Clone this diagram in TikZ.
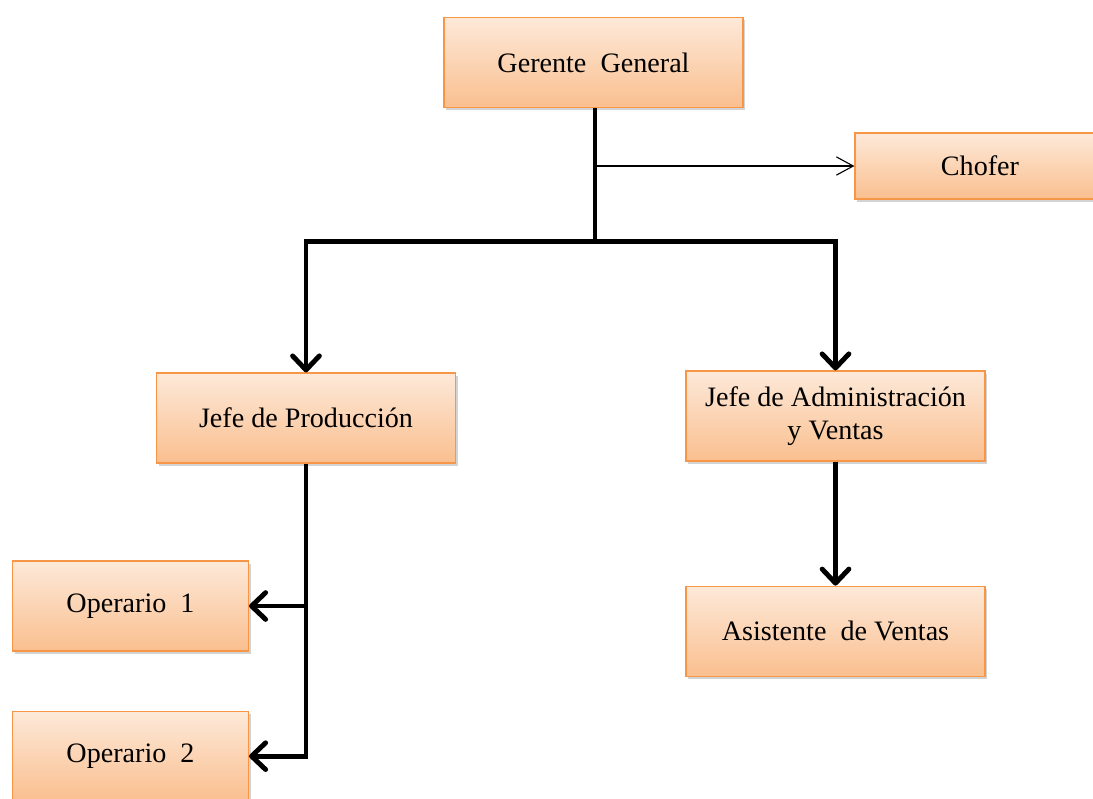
\documentclass[tikz,border=0pt]{standalone}
\usepackage{fontspec}
\setmainfont{Liberation Serif}
\usetikzlibrary{positioning,arrows.meta,shadows,calc}
\definecolor{naranjaborde}{HTML}{F79646}
\definecolor{naranjaclaro}{HTML}{FDE9D9}
\definecolor{naranjaoscuro}{HTML}{FABF8F}
\tikzset{
	>={Straight Barb[length=10pt,width=19pt,round]},
	cargo/.style={
		rectangle,
		top color=naranjaclaro,
		bottom color=naranjaoscuro,
		draw=naranjaborde, thick,
		minimum width=7.475cm,
		minimum height=2.25cm,
		align=center,
		font=\fontsize{20}{24}\selectfont,
		drop shadow={shadow xshift=1.5pt, shadow yshift=-2pt, opacity=0.35}},
	operario/.style={cargo, minimum width=5.9cm},
	linea/.style={draw, line width=3.5pt, ->},
	lineafina/.style={draw, line width=0.8pt, -{Straight Barb[length=12pt,width=13pt]}},
}

\begin{document}
\begin{tikzpicture}[x=0.025cm, y=-0.025cm]
	\useasboundingbox (0,0) rectangle (1093,798);
	\node[cargo] (gerente) at (593.5,62.5) {Gerente~~General};
	\node[cargo, minimum width=6.25cm, minimum height=1.65cm] (chofer) at (980,166) {Chofer};
	\node[cargo] (prod) at (306,418) {Jefe de Producción};
	\node[cargo] (admin) at (835.5,416) {Jefe de Administración\\ y Ventas};
	\node[cargo, below=3.1cm of admin] (asist) {Asistente~~de Ventas};
	\node[operario] (op1) at (130.5,606) {Operario~~1};
	\node[operario, below=1.475cm of op1] (op2) {Operario~~2};

	% lineas
	\coordinate (cruce) at ($(gerente.south)+(1.5,133)$);
	\coordinate (ramal) at (cruce |- chofer.west);
	\draw[linea,-] ($(gerente.south)+(1.5,0)$) -- (cruce);
	\draw[linea] (cruce) -| (prod.north);
	\draw[linea] (cruce) -| (admin.north);
	\draw[lineafina] (ramal) -- (chofer.west);
	\draw[linea] (prod.south) |- (op2.east);
	\draw[linea] (prod.south |- op1.east) -- (op1.east);
	\draw[linea] (admin.south) -- (asist.north);
\end{tikzpicture}
\end{document}
